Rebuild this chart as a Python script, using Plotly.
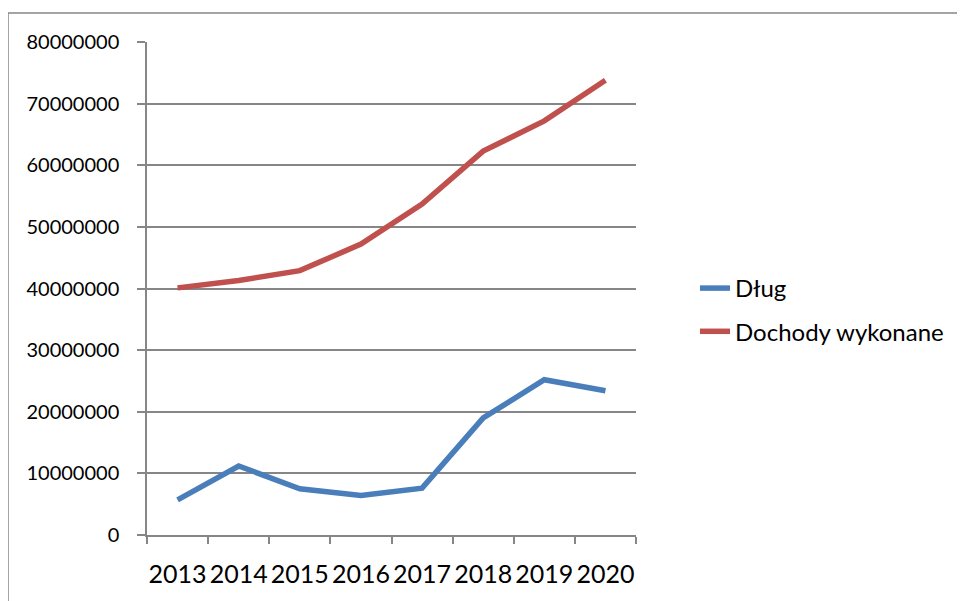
import plotly.graph_objects as go

years = ["2013", "2014", "2015", "2016", "2017", "2018", "2019", "2020"]
dlug = [5700000, 11200000, 7500000, 6400000, 7600000, 19000000, 25200000, 23400000]
dochody = [40100000, 41300000, 42900000, 47200000, 53700000, 62300000, 67200000, 73800000]
y_ticks = [0, 10000000, 20000000, 30000000, 40000000, 50000000, 60000000, 70000000, 80000000]

FONT = "Lato, Liberation Sans, sans-serif"
GRID = "#868686"

fig = go.Figure()
fig.add_trace(go.Scatter(x=years, y=dlug, mode="lines", name="Dług",
                         legendgroup="a",
                         line=dict(color="#4A7EBB", width=5.5)))
fig.add_trace(go.Scatter(x=years, y=dochody, mode="lines", name="Dochody wykonane",
                         legendgroup="b",
                         line=dict(color="#C0504D", width=5.5)))

# page body has an 8px margin; figure coordinates = screen - 8
OFF = 8
W, H = 965, 601
L, T = 147 - OFF, 42 - OFF
pw, ph = 489, 493
R, B = W - L - pw, H - T - ph

fig.update_layout(
    width=W, height=H,
    margin=dict(l=L, r=R, t=T, b=B, autoexpand=False),
    paper_bgcolor="white", plot_bgcolor="white",
    font=dict(family=FONT, color="black"),
    showlegend=True,
    legend=dict(x=(695 - 147) / pw, y=(535 - 266) / ph, xanchor="left", yanchor="top",
                font=dict(size=24, family=FONT), tracegroupgap=9,
                traceorder="grouped", bgcolor="rgba(0,0,0,0)"),
    xaxis=dict(type="category", showgrid=False, showline=True, linecolor=GRID, linewidth=1.5,
               ticks="outside", tickson="boundaries", ticklen=7, tickcolor=GRID, tickwidth=1.5,
               tickfont=dict(size=25, family=FONT), ticklabelstandoff=16, tickangle=0,
               automargin=False, range=[-0.5, 7.5], fixedrange=True),
    yaxis=dict(range=[0, 80000000], tickvals=y_ticks, ticktext=[str(v) for v in y_ticks],
               showgrid=True, gridcolor=GRID, gridwidth=1.5,
               showline=True, linecolor=GRID, linewidth=1.5,
               ticks="outside", ticklen=8, tickcolor=GRID, tickwidth=1.5,
               tickfont=dict(size=20, family=FONT), ticklabelstandoff=14,
               automargin=False, zeroline=False, fixedrange=True),
)

fig.add_shape(type="rect", xref="paper", yref="paper",
              x0=(8 - 147) / pw, x1=(W + 20 - 147) / pw,
              y0=-(601 - 535 + 20) / ph, y1=(535 - 13) / ph,
              line=dict(color=GRID, width=1.5), fillcolor="rgba(0,0,0,0)", layer="below")

fig.write_html("out.html")
